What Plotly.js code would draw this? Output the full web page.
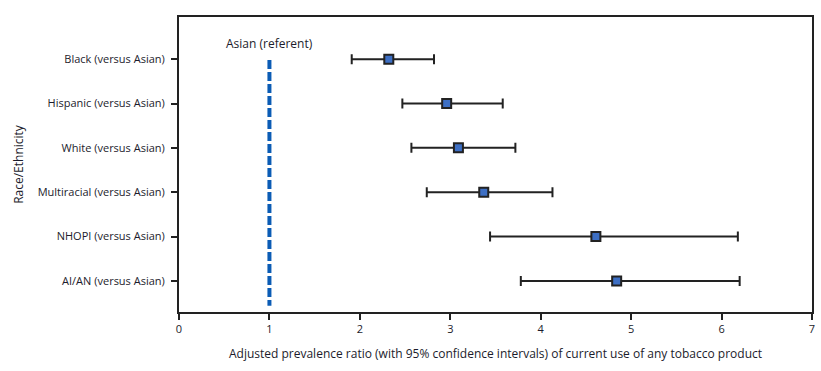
<!DOCTYPE html>
<html>
<head>
<meta charset="utf-8">
<script src="https://cdn.plot.ly/plotly-3.0.1.min.js"></script>
<style>html,body{margin:0;padding:0;background:#fff;}#chart{width:821px;height:371px;}</style>
</head>
<body>
<div id="chart"></div>
<script>
const categories = ["Black (versus Asian)", "Hispanic (versus Asian)", "White (versus Asian)", "Multiracial (versus Asian)", "NHOPI (versus Asian)", "AI/AN (versus Asian)"];
const ratio = [2.32, 2.96, 3.09, 3.37, 4.61, 4.84];
const ciLow = [1.91, 2.47, 2.57, 2.74, 3.44, 3.78];
const ciHigh = [2.82, 3.58, 3.72, 4.13, 6.18, 6.20];
const referent = 1;
const referentLabel = "Asian (referent)";
const xTitle = "Adjusted prevalence ratio (with 95% confidence intervals) of current use of any tobacco product";
const yTitle = "Race/Ethnicity";

const font = "'Open Sans', 'Noto Sans', sans-serif";
const trace = {
  type: "scatter", mode: "markers",
  x: ratio, y: categories,
  marker: {symbol: "square", size: 9, color: "#3d6fc4", line: {color: "#222", width: 2}},
  error_x: {type: "data", symmetric: false,
    array: ratio.map((v, i) => ciHigh[i] - v),
    arrayminus: ratio.map((v, i) => v - ciLow[i]),
    color: "#222", thickness: 2, width: 5},
  hoverinfo: "x+y", showlegend: false
};
const layout = {
  width: 821, height: 371,
  margin: {l: 179, r: 9, t: 17, b: 59},
  paper_bgcolor: "#fff", plot_bgcolor: "#fff",
  font: {family: font, size: 11, color: "#1c1c2c"},
  xaxis: {range: [0, 7], dtick: 1, tick0: 0, showgrid: false, zeroline: false,
    showline: true, linecolor: "#222", linewidth: 2, mirror: true,
    ticks: "outside", ticklen: 6, tickwidth: 2, tickcolor: "#222",
    tickfont: {size: 11, color: "#1c1c2c"},
    title: {text: xTitle, font: {size: 12, color: "#1c1c2c"}, standoff: 14}},
  yaxis: {type: "category", range: [5.7, -0.95], showgrid: false, zeroline: false,
    showline: true, linecolor: "#222", linewidth: 2, mirror: true,
    ticks: "outside", ticklen: 6, tickwidth: 2, tickcolor: "#222",
    ticklabelstandoff: 4,
    tickfont: {size: 11, color: "#1c1c2c"},
    title: {text: yTitle, font: {size: 12, color: "#1c1c2c"}, standoff: 12}},
  shapes: [{type: "line", xref: "x", yref: "y", x0: referent, x1: referent, y0: 0.02, y1: 5.56,
    line: {color: "#0b5cb5", width: 4, dash: "9px,3px"}}],
  annotations: [{x: referent, y: -0.36, xref: "x", yref: "y", text: referentLabel, showarrow: false,
    font: {size: 12, color: "#1c1c2c"}}]
};
Plotly.newPlot("chart", [trace], layout, {displayModeBar: false, staticPlot: true});
</script>
</body>
</html>
